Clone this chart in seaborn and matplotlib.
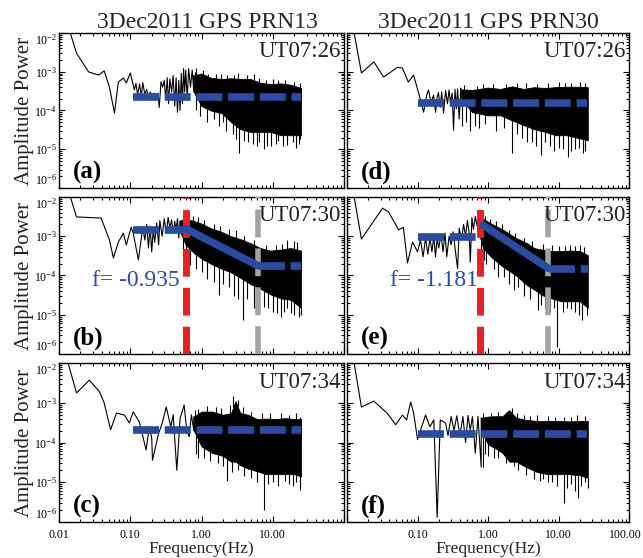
import numpy as np
import matplotlib
matplotlib.use('Agg')
import matplotlib.pyplot as plt
import matplotlib.transforms as mtransforms
from matplotlib.ticker import LogLocator, NullFormatter
import seaborn as sns
import pandas as pd

sns.set_theme(style='ticks')
plt.rcParams['font.family'] = ['Liberation Serif', 'DejaVu Serif']
plt.rcParams['mathtext.fontset'] = 'stix'

# ---------------- data ----------------
titles = ['3Dec2011 GPS PRN13', '3Dec2011 GPS PRN30']
times = ['UT07:26', 'UT07:30', 'UT07:34']
letters = [['(a)', '(d)'], ['(b)', '(e)'], ['(c)', '(f)']]
y_ticks = [1e-6, 1e-5, 1e-4, 1e-3, 1e-2]
y_ticklabels = [r'$\mathdefault{10^{-6}}$', r'$\mathdefault{10^{-5}}$', r'$\mathdefault{10^{-4}}$',
                r'$\mathdefault{10^{-3}}$', r'$\mathdefault{10^{-2}}$']
x_ticks = [0.01, 0.1, 1, 10, 100]
x_ticklabels_left = ['0.01', '0.10', '1.00', '10.00', '']
x_ticklabels_right = ['', '0.10', '1.00', '10.00', '100.00']

# Panel (a)
low_f_a = [0.012, 0.0176, 0.026, 0.036, 0.043, 0.051, 0.060, 0.068, 0.080, 0.088, 0.100, 0.114,
           0.12, 0.127, 0.135, 0.143, 0.15, 0.16, 0.17, 0.18, 0.19, 0.2, 0.215, 0.23, 0.245, 0.255,
           0.27, 0.285, 0.3, 0.315, 0.33, 0.345, 0.36, 0.38, 0.4, 0.42, 0.44, 0.46, 0.48, 0.5, 0.52,
           0.54, 0.56, 0.58, 0.6, 0.63, 0.66, 0.7, 0.74, 0.78]
low_p_a = [0.03, 3.0e-3, 9.9e-4, 8.2e-4, 1.05e-3, 4.0e-4, 8.6e-5, 5.4e-4, 6.9e-4, 5.1e-4, 9.3e-4, 3.4e-4,
           5e-4, 2.5e-4, 4.8e-4, 2.4e-4, 5.2e-4, 2.6e-4, 3.5e-4, 2.2e-4, 3.0e-4, 2.4e-4, 2.8e-4, 2.2e-4, 2.8e-4, 1.2e-4,
           5.5e-4, 4e-4, 6e-4, 2e-4, 7e-4, 1.5e-4, 6.5e-4, 3e-4, 8e-4, 1.3e-4, 7e-4, 9e-5, 6e-4, 1e-4, 9e-4,
           1.5e-4, 1.2e-3, 3e-4, 1.1e-3, 2e-4, 1.2e-3, 4e-4, 1.1e-3, 3e-4]
env_f_a = [0.78, 1.0, 1.35, 1.9, 2.6, 3.5, 4.9, 6.7, 9.3, 13, 18, 25]
hi_a = [8.0e-4, 9.0e-4, 7.0e-4, 6.5e-4, 6.8e-4, 6.5e-4, 6.5e-4, 5.2e-4, 4.8e-4, 5.0e-4, 4.6e-4, 3.8e-4]
lo_a = [3.0e-4, 1.3e-4, 1.0e-4, 8.6e-5, 5.0e-5, 3.3e-5, 2.8e-5, 2.8e-5, 2.8e-5, 2.3e-5, 2.3e-5, 2.3e-5]
dn_f_a = [1.2, 1.75, 2.2, 3.4, 4.5, 6.0, 7.5, 8.2, 11, 14, 19, 23,
          0.83, 0.95, 1.5, 2.0, 2.8, 3.0, 3.9, 5.2, 6.5, 9.5, 12, 16, 21, 24.5]
dn_p_a = [5e-5, 4e-5, 3e-5, 8e-6, 1.5e-5, 1.2e-5, 1e-5, 1.2e-5, 1.4e-5, 1.2e-5, 1.5e-5, 1.4e-5,
          1e-4, 7e-5, 6e-5, 5e-5, 2.5e-5, 1.8e-5, 1.6e-5, 1.4e-5, 1.5e-5, 1.2e-5, 1.6e-5, 1.3e-5, 1.1e-5, 1.8e-5]
up_f_a = [0.85, 1.05, 1.6, 2.3, 4.3, 8, 12,
          0.82, 1.25, 1.9, 2.9, 3.3, 5.5, 6.5, 10, 15, 20, 24]
up_p_a = [1.25e-3, 1.1e-3, 9e-4, 8e-4, 8e-4, 6e-4, 6e-4,
          1.0e-3, 9e-4, 8.5e-4, 8e-4, 9.5e-4, 8.5e-4, 7e-4, 6.5e-4, 6e-4, 5.5e-4, 5e-4]

# Panel (b)
low_f_b = [0.012, 0.0176, 0.039, 0.051, 0.058, 0.068, 0.080, 0.088, 0.103, 0.11, 0.13, 0.15,
           0.16, 0.17, 0.18, 0.19, 0.2, 0.21, 0.22, 0.235, 0.25, 0.26, 0.28, 0.3, 0.32, 0.34, 0.36,
           0.38, 0.4, 0.42, 0.44, 0.46, 0.48, 0.5]
low_p_b = [0.03, 3.1e-3, 2.9e-3, 8e-4, 2.8e-4, 7.1e-4, 1.2e-3, 6e-4, 1.7e-3, 1.2e-3, 2.5e-4, 1.7e-3,
           8e-4, 2e-3, 5e-4, 1.8e-3, 4e-4, 1.5e-3, 7e-4, 2.2e-3, 6e-4, 2.5e-3, 1e-3, 2.8e-3, 1.2e-3, 3e-3, 1.6e-3,
           2.6e-3, 1.2e-3, 2.4e-3, 1.5e-3, 2.8e-3, 9e-4, 2.5e-3]
env_f_b = [0.5, 0.6, 0.8, 1.0, 1.35, 1.9, 2.6, 3.6, 4.9, 6.7, 9.3, 13, 18, 25]
hi_b = [2.5e-3, 2.8e-3, 2.4e-3, 2.1e-3, 1.6e-3, 1.3e-3, 1.0e-3, 8.3e-4, 6.6e-4, 5.0e-4, 4.3e-4, 4.6e-4, 5.0e-4, 4.3e-4]
lo_b = [1.3e-3, 6.0e-4, 3.6e-4, 2.7e-4, 2.0e-4, 1.5e-4, 1.2e-4, 8.5e-5, 6.0e-5, 4.6e-5, 3.3e-5, 2.6e-5, 2.4e-5, 1.5e-5]
dn_f_b = [0.55, 0.7, 1.2, 1.75, 2.4, 3.8, 5.5, 7.5, 10, 13, 16, 20, 23,
          0.6, 0.85, 1.0, 1.5, 2.0, 2.9, 3.3, 4.4, 6.2, 8.5, 11.5, 14.5, 18, 25]
dn_p_b = [3e-4, 1.8e-4, 8e-5, 3.2e-5, 5e-5, 7.3e-6, 1.5e-5, 1.6e-5, 1.2e-5, 8.6e-6, 1.5e-5, 1e-5, 8.6e-6,
          2.5e-4, 1.5e-4, 1.2e-4, 7e-5, 6e-5, 3e-5, 2.5e-5, 2.5e-5, 2e-5, 1.5e-5, 1.1e-5, 1.2e-5, 1.1e-5, 1e-5]
up_f_b = [0.65, 0.9, 1.5, 3, 16, 20,
          0.55, 0.75, 1.1, 1.8, 2.4, 4, 5.5, 8, 11, 13.5, 22]
up_p_b = [3.4e-3, 3e-3, 2e-3, 1.4e-3, 8e-4, 7.5e-4,
          3.2e-3, 3.3e-3, 2.6e-3, 1.8e-3, 1.5e-3, 1e-3, 8e-4, 6e-4, 6e-4, 6.5e-4, 7e-4]

# Panel (c)
low_f_c = [0.012, 0.0176, 0.0267, 0.037, 0.043, 0.053, 0.064, 0.083, 0.097, 0.11, 0.134, 0.167, 0.185,
           0.2, 0.205, 0.25, 0.28, 0.32, 0.37, 0.4, 0.45, 0.5, 0.57, 0.62, 0.67, 0.72, 0.78]
low_p_c = [0.02, 1.77e-3, 3.7e-3, 1.9e-3, 9.9e-4, 2.1e-4, 5.5e-4, 4.9e-4, 3.1e-4, 5.9e-4, 3.3e-4, 6.5e-5, 2.5e-4,
           1.3e-4, 3.6e-5, 1.7e-4, 3e-4, 7.8e-4, 2.5e-4, 5e-4, 2e-5, 4e-4, 8.8e-4, 2e-4, 1.4e-4, 5e-4, 2e-4]
env_f_c = [0.78, 1.0, 1.4, 2.0, 2.6, 3.0, 3.5, 4.5, 6, 8, 11, 15, 20, 25]
hi_c = [4.5e-4, 6.0e-4, 6.0e-4, 5.0e-4, 5.5e-4, 1.1e-3, 5.5e-4, 5.0e-4, 3.9e-4, 4.0e-4, 3.9e-4, 4.1e-4, 3.9e-4, 3.9e-4]
lo_c = [2.0e-4, 8e-5, 5.5e-5, 4.6e-5, 3.3e-5, 3.3e-5, 2.7e-5, 2.2e-5, 1.9e-5, 1.6e-5, 1.6e-5, 1.6e-5, 1.6e-5, 1.4e-5]
dn_f_c = [0.9, 1.3, 2.3, 3.3, 5, 7.5, 10, 15, 19, 24,
          0.85, 1.1, 1.7, 2.0, 2.7, 4, 6, 8.5, 12, 17, 21]
dn_p_c = [4e-5, 3.5e-5, 1.1e-5, 2e-5, 1.3e-5, 2e-6, 1e-5, 1.1e-5, 8e-6, 6.3e-6,
          5e-5, 4e-5, 3e-5, 2.5e-5, 1.8e-5, 1.4e-5, 1e-5, 9e-6, 8e-6, 9e-6, 1e-5]
up_f_c = [0.9, 1.6, 2.8, 3.2, 24,
          0.82, 1.2, 1.9, 2.5, 3.8, 5, 7, 9, 13, 17, 21]
up_p_c = [7e-4, 8e-4, 1.5e-3, 1.2e-3, 4.5e-4,
          6.5e-4, 8.5e-4, 7.5e-4, 9e-4, 8e-4, 6e-4, 5.5e-4, 5.5e-4, 5.5e-4, 5e-4, 5.5e-4]

# Panel (d)
low_f_d = [0.0124, 0.016, 0.024, 0.033, 0.052, 0.061, 0.074, 0.088, 0.11, 0.122, 0.135, 0.143, 0.155,
           0.169, 0.18, 0.19, 0.198, 0.21, 0.22, 0.234, 0.25, 0.266, 0.28, 0.293, 0.31, 0.324, 0.34,
           0.355, 0.37, 0.39, 0.41]
low_p_d = [0.012, 9.3e-4, 1.8e-3, 7.3e-4, 1.3e-3, 1.25e-3, 5.4e-4, 8.2e-4, 1.9e-4, 9e-5, 2.5e-4, 3.4e-4, 1.6e-4,
           2.5e-4, 9e-5, 2.2e-4, 2.9e-4, 1.2e-4, 3e-4, 8.6e-5, 3.3e-4, 1.5e-4, 3.4e-4, 1.6e-4, 2.8e-4, 3.1e-5, 3.5e-4,
           1.1e-4, 3.6e-4, 6e-5, 3.8e-4]
env_f_d = [0.41, 0.6, 1.0, 1.5, 2.2, 3.2, 4.5, 6.5, 9, 13, 18, 26]
hi_d = [3.5e-4, 3.4e-4, 3.9e-4, 3.6e-4, 4.2e-4, 3.6e-4, 4.0e-4, 3.8e-4, 4.0e-4, 4.1e-4, 4.1e-4, 4.0e-4]
lo_d = [2.0e-4, 9e-5, 7.5e-5, 7.5e-5, 5.5e-5, 4.2e-5, 3.3e-5, 2.8e-5, 2.3e-5, 2.3e-5, 2.0e-5, 1.7e-5]
dn_f_d = [0.43, 0.55, 0.75, 1.3, 2.2, 3.0, 4.2, 5.6, 7.5, 10, 13.4, 17, 22,
          0.48, 0.65, 0.9, 1.7, 2.6, 3.6, 4.8, 6.4, 8.7, 11.5, 15, 19.5, 24]
dn_p_d = [4e-5, 3e-5, 3.5e-5, 3e-5, 8e-6, 2e-5, 1.5e-5, 7e-6, 1.2e-5, 1.1e-5, 6.3e-6, 1e-5, 8e-6,
          5e-5, 4e-5, 4.5e-5, 3.5e-5, 2.5e-5, 1.5e-5, 1.2e-5, 1.5e-5, 9e-6, 1e-5, 9e-6, 1.1e-5, 9e-6]
up_f_d = [1.16, 2.6, 5, 15,
          0.45, 0.7, 0.85, 1.8, 3.5, 7, 10, 12.5, 20, 24]
up_p_d = [4.9e-4, 5e-4, 4.8e-4, 5e-4,
          4.5e-4, 4.3e-4, 4.8e-4, 4.8e-4, 5e-4, 5.2e-4, 5.5e-4, 5e-4, 5.5e-4, 5e-4]

# Panel (e)
low_f_e = [0.0124, 0.016, 0.032, 0.039, 0.054, 0.063, 0.072, 0.085, 0.1, 0.11, 0.12, 0.13, 0.14, 0.15,
           0.16, 0.17, 0.18, 0.19, 0.2, 0.215, 0.23, 0.245, 0.26, 0.28, 0.3, 0.32, 0.34, 0.37, 0.39,
           0.42, 0.45, 0.48, 0.51, 0.54, 0.56, 0.59, 0.62, 0.66, 0.7, 0.74]
low_p_e = [0.012, 8.5e-4, 5.2e-3, 4.1e-3, 1.45e-3, 1.7e-3, 2.1e-4, 7.1e-4, 4e-4, 8e-4, 3e-4, 9e-4, 3.5e-4, 9e-4,
           4e-4, 1e-3, 3e-4, 9e-4, 5e-4, 1.1e-3, 4e-4, 1.2e-3, 3e-4, 1e-3, 6e-4, 1.3e-3, 5e-4, 1.5e-4, 1.6e-3,
           8e-4, 2e-3, 1e-3, 2.5e-3, 1.2e-3, 2.2e-4, 3e-3, 1.5e-3, 3.2e-3, 1.8e-3, 3e-3]
env_f_e = [0.74, 0.85, 1.1, 1.6, 2.5, 3.6, 4.5, 6, 8, 11, 15, 20, 26]
hi_e = [2.6e-3, 2.8e-3, 2.1e-3, 1.5e-3, 9.0e-4, 6.6e-4, 5.0e-4, 4.5e-4, 4.2e-4, 4.2e-4, 4.3e-4, 4.2e-4, 3.3e-4]
lo_e = [1.2e-3, 5.0e-4, 3.0e-4, 1.7e-4, 1.0e-4, 5.6e-5, 4.4e-5, 3.1e-5, 2.6e-5, 2.2e-5, 2.2e-5, 2.2e-5, 1.5e-5]
dn_f_e = [0.8, 0.95, 1.4, 2.3, 3.2, 5.1, 6.5, 9.4, 11.4, 15, 21.5,
          0.88, 1.2, 1.7, 2.0, 2.7, 4.0, 5.7, 7.5, 8.5, 13, 17, 19.5, 25]
dn_p_e = [1.5e-4, 2e-4, 9e-5, 4.3e-5, 3e-5, 1.3e-5, 1.5e-5, 1.5e-6, 1.2e-5, 1.4e-5, 7.3e-6,
          2.5e-4, 1.5e-4, 9e-5, 6e-5, 5e-5, 2.5e-5, 1.8e-5, 1.2e-5, 1.5e-5, 1.5e-5, 1.2e-5, 1e-5, 1e-5]
up_f_e = [0.8, 1.3, 2, 10, 17, 23,
          0.9, 1.05, 1.6, 2.4, 3.2, 4.2, 6, 8, 12.5, 14.5, 20]
up_p_e = [3.4e-3, 2.5e-3, 1.4e-3, 5.5e-4, 5.5e-4, 5.3e-4,
          3.2e-3, 2.8e-3, 2e-3, 1.2e-3, 9e-4, 7.5e-4, 6.5e-4, 6e-4, 5.5e-4, 6e-4, 6e-4]

# Panel (f)
low_f_f = [0.0124, 0.016, 0.024, 0.037, 0.049, 0.061, 0.07, 0.08, 0.088, 0.1, 0.13, 0.15, 0.17, 0.19,
           0.21, 0.25, 0.27, 0.3, 0.33, 0.36, 0.4, 0.44, 0.48, 0.52, 0.56, 0.6, 0.66, 0.72, 0.8]
low_p_f = [0.012, 7.8e-4, 1.1e-3, 5.5e-4, 2.8e-4, 4.9e-4, 3.7e-4, 1.05e-3, 5.5e-4, 1.2e-4, 4.9e-4, 2.5e-4,
           3.7e-4, 1.3e-6, 3.7e-4, 3.1e-4, 1.5e-4, 4.5e-4, 2e-4, 4.7e-4, 1.5e-4, 4.5e-4, 1e-4, 4.8e-4,
           2e-4, 4.5e-4, 5.4e-5, 4.6e-4, 2.4e-5]
env_f_f = [0.8, 1.0, 1.3, 1.6, 2.0, 2.5, 3.5, 5, 7, 10, 14, 20, 26]
hi_f = [4.2e-4, 4.5e-4, 4.6e-4, 4.6e-4, 6.5e-4, 4.2e-4, 3.7e-4, 3.5e-4, 3.5e-4, 3.5e-4, 3.4e-4, 3.5e-4, 3.5e-4]
lo_f = [2.0e-4, 9e-5, 7e-5, 5.5e-5, 3.3e-5, 3.3e-5, 2.4e-5, 1.8e-5, 1.6e-5, 1.6e-5, 1.6e-5, 1.5e-5, 1.3e-5]
dn_f_f = [0.84, 1.2, 2.3, 3.5, 6, 8, 11.8, 15, 19, 24,
          0.9, 1.0, 1.4, 1.8, 2.7, 4.5, 5.5, 7, 9.5, 13, 17, 21, 26]
dn_p_f = [2.4e-5, 4e-5, 2.5e-5, 1.5e-5, 1.2e-5, 1e-5, 3e-6, 9e-6, 4e-6, 1e-5,
          5e-5, 4.5e-5, 4e-5, 3e-5, 2e-5, 1.2e-5, 1.1e-5, 1e-5, 8e-6, 7e-6, 6e-6, 8e-6, 7e-6]
up_f_f = [1.1, 2.2, 4, 12,
          0.85, 1.4, 1.8, 2.6, 3.2, 5, 7, 9, 15, 18, 24]
up_p_f = [5.5e-4, 7.3e-4, 4.6e-4, 4.3e-4,
          5.5e-4, 6e-4, 5.8e-4, 5.5e-4, 5e-4, 4.8e-4, 4.6e-4, 4.5e-4, 4.5e-4, 4.8e-4, 4.6e-4]

# fitted (blue) lines: segments of (f_start, f_end, p_start, p_end, dashed)
fit_a = [(0.11, 25, 2.23e-4, 2.23e-4, True)]
fit_b = [(0.11, 0.58, 1.45e-3, 1.45e-3, True), (0.6, 6.3, 1.55e-3, 1.75e-4, False), (6.5, 25, 1.75e-4, 1.75e-4, True)]
fit_c = [(0.11, 25, 2.1e-4, 2.1e-4, True)]
fit_d = [(0.1, 25, 1.56e-4, 1.56e-4, True)]
fit_e = [(0.1, 0.74, 9.5e-4, 9.5e-4, True), (0.85, 7.2, 1.9e-3, 1.52e-4, False), (7.4, 26, 1.45e-4, 1.45e-4, True)]
fit_f = [(0.1, 25, 1.65e-4, 1.65e-4, True)]

red_f = {'b': 0.6, 'e': 0.78}
gray_f = {'b': 6.3, 'e': 7.2}
slope_text = {'b': 'f= -0.935', 'e': 'f= -1.181'}

panels = {
    'a': (low_f_a, low_p_a, env_f_a, hi_a, lo_a, dn_f_a, dn_p_a, up_f_a, up_p_a, fit_a),
    'b': (low_f_b, low_p_b, env_f_b, hi_b, lo_b, dn_f_b, dn_p_b, up_f_b, up_p_b, fit_b),
    'c': (low_f_c, low_p_c, env_f_c, hi_c, lo_c, dn_f_c, dn_p_c, up_f_c, up_p_c, fit_c),
    'd': (low_f_d, low_p_d, env_f_d, hi_d, lo_d, dn_f_d, dn_p_d, up_f_d, up_p_d, fit_d),
    'e': (low_f_e, low_p_e, env_f_e, hi_e, lo_e, dn_f_e, dn_p_e, up_f_e, up_p_e, fit_e),
    'f': (low_f_f, low_p_f, env_f_f, hi_f, lo_f, dn_f_f, dn_p_f, up_f_f, up_p_f, fit_f),
}
grid = [['a', 'd'], ['b', 'e'], ['c', 'f']]

BLUE = '#2B4C9E'
RED = '#E62129'
GRAY = '#A3A3A3'

fig = plt.figure(figsize=(6.43, 5.58), dpi=100)
col_x = [(0.0918, 0.4432), (0.5397, 0.4386)]
row_y = [(0.6631, 0.2778), (0.3656, 0.2814), (0.0645, 0.2849)]


def logi(x, xp, fp):
    return 10 ** np.interp(np.log10(x), np.log10(xp), np.log10(fp))


for r in range(3):
    for c in range(2):
        key = grid[r][c]
        ax = fig.add_axes([col_x[c][0], row_y[r][0], col_x[c][1], row_y[r][1]])
        lf, lp, ef, hi, lo, dnf, dnp, upf, upp, fits = panels[key]
        ax.set_xscale('log')
        ax.set_yscale('log')

        # spectrum
        df = pd.DataFrame({'f': lf + [ef[0]], 'p': lp + [hi[0]]})
        sns.lineplot(data=df, x='f', y='p', ax=ax, color='black', lw=0.8,
                     estimator=None, sort=False)
        ax.fill_between(ef, lo, hi, color='black', lw=0.6, edgecolor='black')
        ax.vlines(dnf, dnp, logi(dnf, ef, lo), color='black', lw=0.8)
        ax.vlines(upf, logi(upf, ef, hi), upp, color='black', lw=0.8)

        # vertical markers
        if key in red_f:
            ax.axvline(red_f[key], color=RED, lw=5, ls=(0, (4.0, 1.6)), zorder=3)
            ax.axvline(gray_f[key], color=GRAY, lw=4, ls=(0, (5.0, 2.0)), zorder=3)

        # fitted lines
        for (f0, f1, p0, p1, dashed) in fits:
            seg = pd.DataFrame({'f': [f0, f1], 'p': [p0, p1]})
            sns.lineplot(data=seg, x='f', y='p', ax=ax, color=BLUE, lw=5.5,
                         ls=(0, (3.4, 0.75)) if dashed else '-',
                         estimator=None, sort=False, zorder=4)

        ax.set_xlim(0.01, 100)
        ax.set_ylim(1e-6, 1e-2)

        ax.xaxis.set_minor_locator(LogLocator(base=10, subs=np.arange(2, 10), numticks=20))
        ax.yaxis.set_minor_locator(LogLocator(base=10, subs=np.arange(2, 10), numticks=20))
        ax.xaxis.set_minor_formatter(NullFormatter())
        ax.yaxis.set_minor_formatter(NullFormatter())
        ax.tick_params(which='both', direction='in', top=True, right=True, width=0.8,
                       colors='black', labelsize=8.5)
        ax.tick_params(which='major', length=4.5)
        ax.tick_params(which='minor', length=2.5)
        ax.tick_params(axis='x', pad=5)
        ax.tick_params(axis='y', pad=1.5)
        for s in ax.spines.values():
            s.set_linewidth(1.0)
            s.set_color('black')

        ax.set_xticks(x_ticks)
        ax.set_yticks(y_ticks)
        if r == 2:
            if c == 0:
                ax.set_xticklabels(x_ticklabels_left)
            else:
                ax.set_xticklabels(x_ticklabels_right)
                lab = ax.get_xticklabels()[-1]
                lab.set_transform(lab.get_transform() +
                                  mtransforms.ScaledTranslation(-3 / 72, 0, fig.dpi_scale_trans))
            ax.set_xlabel('Frequency(Hz)', fontsize=12.6, color='#222222')
            ax.xaxis.set_label_coords(0.5, -0.12)
        else:
            ax.set_xticklabels([])
            ax.set_xlabel('')
        if c == 0:
            ax.set_yticklabels(y_ticklabels)
            labs = ax.get_yticklabels()
            labs[0].set_va('bottom')
            labs[-1].set_va('top')
            ax.set_ylabel('Amplitude Power', fontsize=15, color='#222222')
            ax.yaxis.set_label_coords(-0.088, 0.5)
        else:
            ax.set_yticklabels([])
            ax.set_ylabel('')

        if r == 0:
            ax.set_title(titles[c], fontsize=17, pad=3, x=0.52 if c == 0 else 0.5)

        ax.text(0.99, 0.88, times[r], transform=ax.transAxes, ha='right', va='center',
                fontsize=16.5, color='#222222', zorder=6)
        ax.text(0.05, 0.10, letters[r][c], transform=ax.transAxes, ha='left', va='center',
                fontsize=18, fontweight='bold', color='black', zorder=6)
        if key in slope_text:
            ax.text(0.116 if c == 0 else 0.152, 0.47, slope_text[key], transform=ax.transAxes,
                    ha='left', va='center', fontsize=17, color=BLUE, zorder=6)

fig.savefig('out.png', dpi=100)
